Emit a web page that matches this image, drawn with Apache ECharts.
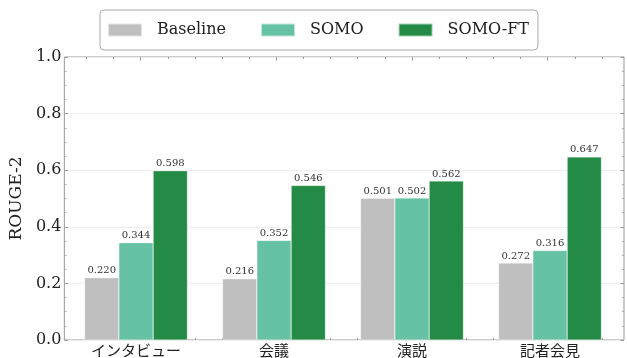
<!DOCTYPE html>
<html><head><meta charset="utf-8">
<script src="https://cdn.jsdelivr.net/npm/echarts@6/dist/echarts.min.js"></script>
<style>html,body{margin:0;padding:0;background:#fff}#c{width:627px;height:358px}</style>
</head><body><div id="c"></div>
<script>
const categories = ['インタビュー', '会議', '演説', '記者会見'];
const baseline = [0.220, 0.216, 0.501, 0.272];
const somo = [0.344, 0.352, 0.502, 0.316];
const somoFt = [0.598, 0.546, 0.562, 0.647];
const seriesNames = ['Baseline', 'SOMO', 'SOMO-FT'];
const colors = ['#bfbfbf', '#66c2a5', '#238b45'];
const yTicks = [0, 0.2, 0.4, 0.6, 0.8, 1.0];
const xMajorTicks = [0, 1, 2, 3];
const xMinorTicks = [-0.4, -0.2, 0.2, 0.4, 0.6, 0.8, 1.2, 1.4, 1.6, 1.8, 2.2, 2.4, 2.6, 2.8, 3.2, 3.4];

const serif = 'DejaVu Serif';
const chart = echarts.init(document.getElementById('c'));
const mk = (name, data, color) => ({
  name, type: 'bar', xAxisIndex: 4, yAxisIndex: 2, data,
  barWidth: 34.3, barGap: '0%',
  itemStyle: { color, borderColor: 'rgba(255,255,255,0.6)', borderWidth: 0.5 },
  label: { show: true, position: 'top', distance: 2, fontFamily: serif, fontSize: 10, color: '#333',
    formatter: p => p.value.toFixed(3) }
});
const frameX = (position, values, len) => ({
  type: 'value', gridIndex: 0, position, min: -0.5625, max: 3.5625,
  axisLabel: { show: false }, splitLine: { show: false }, axisLine: { show: false, onZero: false },
  axisTick: { show: true, inside: true, length: len, customValues: values, lineStyle: { color: '#999' } }
});
chart.setOption({
  animation: false,
  color: colors,
  legend: {
    left: 100, top: 10, padding: [12, 9, 12, 7],
    borderColor: '#aaa', borderWidth: 1, borderRadius: 4,
    itemWidth: 34, itemHeight: 13, itemGap: 34,
    icon: 'rect',
    textStyle: { fontFamily: serif, fontSize: 16, color: '#222', padding: [0, 0, 0, 10] },
    data: seriesNames
  },
  grid: [
    { left: 59, right: 3, top: 57, bottom: 18, show: true, borderColor: '#999', borderWidth: 1, backgroundColor: 'transparent' },
    { left: 67, right: 8, top: 57, bottom: 18 }
  ],
  xAxis: [
    frameX('bottom', xMinorTicks, 2),
    frameX('bottom', xMajorTicks, 3.5),
    frameX('top', xMinorTicks, 2),
    frameX('top', xMajorTicks, 3.5),
    { type: 'category', gridIndex: 1, data: categories, axisLine: { show: false, onZero: false }, axisTick: { show: false },
      axisLabel: { fontFamily: 'Noto Sans CJK JP', fontSize: 15, color: '#222', margin: 3 } }
  ],
  yAxis: [
    { type: 'value', gridIndex: 0, position: 'left', min: 0, max: 1, interval: 0.2,
      name: 'ROUGE-2', nameLocation: 'middle', nameGap: 27,
      nameTextStyle: { fontFamily: serif, fontSize: 17, color: '#222' },
      axisLine: { show: false, onZero: false },
      axisTick: { show: true, inside: true, length: 3.5, lineStyle: { color: '#999' } },
      minorTick: { show: true, splitNumber: 4, length: 2, lineStyle: { color: '#aaa' } },
      splitLine: { show: true, lineStyle: { color: '#eee', width: 1 } },
      axisLabel: { fontFamily: serif, fontSize: 16, color: '#222', margin: 3,
        formatter: v => (yTicks.some(t => Math.abs(t - v) < 1e-9) ? v.toFixed(1) : '') } },
    { type: 'value', gridIndex: 0, position: 'right', min: 0, max: 1, interval: 0.2,
      axisLine: { show: false, onZero: false }, axisLabel: { show: false }, splitLine: { show: false },
      axisTick: { show: true, inside: true, length: 3.5, lineStyle: { color: '#999' } },
      minorTick: { show: true, splitNumber: 4, length: 2, lineStyle: { color: '#aaa' } } },
    { type: 'value', gridIndex: 1, min: 0, max: 1, show: false }
  ],
  series: [mk(seriesNames[0], baseline, colors[0]), mk(seriesNames[1], somo, colors[1]), mk(seriesNames[2], somoFt, colors[2])]
});
</script></body></html>
